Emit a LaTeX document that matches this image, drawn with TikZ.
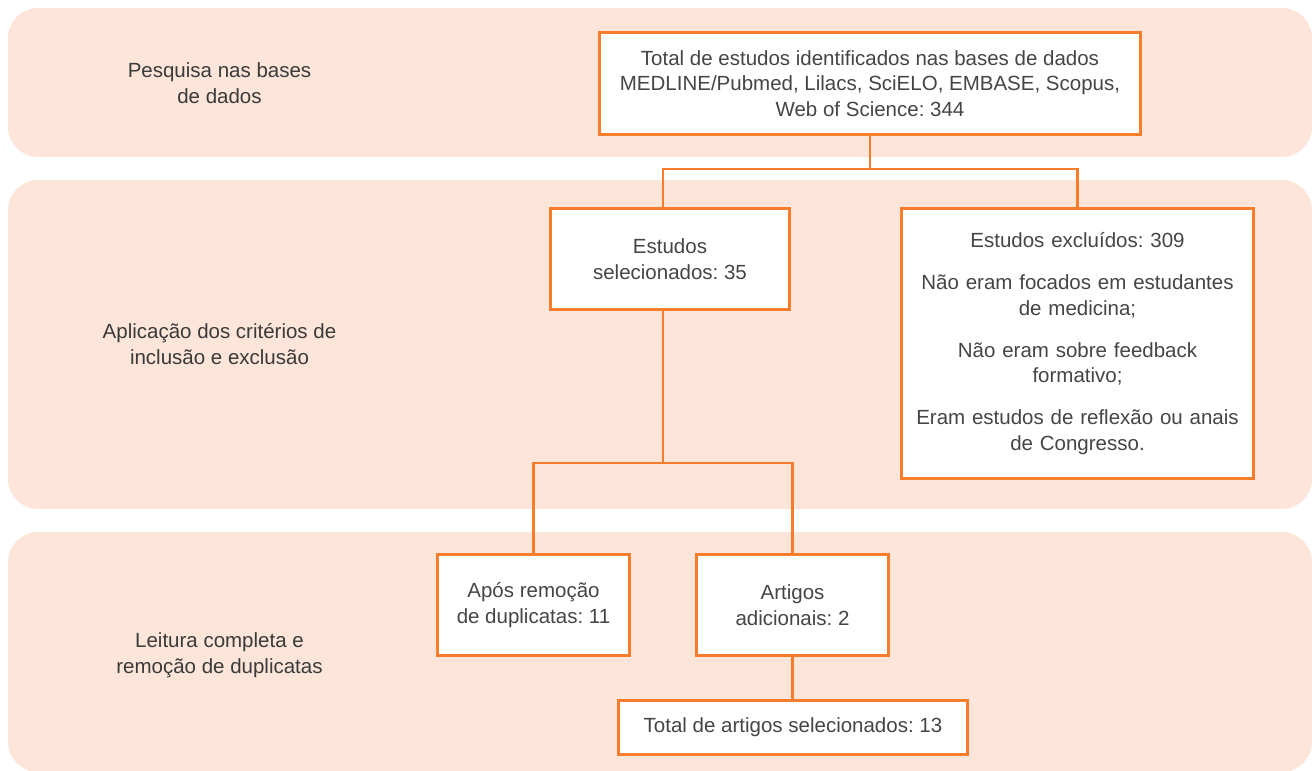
\documentclass[tikz,border=0pt]{standalone}
\usepackage{fontspec}
\setmainfont{Liberation Sans}
\frenchspacing

\definecolor{laranja}{HTML}{F57D2B}
\definecolor{pessego}{HTML}{FDE6D9}
\definecolor{texto}{HTML}{3A3A3A}
\definecolor{textocaixa}{HTML}{454545}

\tikzset{
	faixa/.style={fill=pessego, rounded corners=30pt},
	caixa/.style={draw=laranja, line width=2.7pt, fill=white, align=center,
		text=textocaixa, inner sep=0pt, font=\fontsize{20.5}{25.5}\selectfont},
	etapa/.style={align=center, text=texto, font=\fontsize{20.5}{25.5}\selectfont},
	ligacao/.style={draw=laranja, line width=2.7pt, line cap=rect}
}

\begin{document}
\begin{tikzpicture}[x=1pt, y=-1pt]
	
	\useasboundingbox (0,0) rectangle (1312,771);
	
	% Faixas
	\path[faixa] (8,8) rectangle (1312,157);
	\path[faixa] (8,180) rectangle (1312,509);
	\path[faixa] (8,532) rectangle (1312,772);
	
	% Etapas
	\node[etapa] (pesq) at (219.5,83) {Pesquisa nas bases\\de dados};
	\node[etapa] (aplic) at (219.5,344) {Aplicação dos critérios de\\inclusão e exclusão};
	\node[etapa] (leit) at (219.5,655) {Leitura completa e\\remoção de duplicatas};
	
	% Caixas
	\node[caixa, minimum width=541, minimum height=102] (total) at (870,83.5)
		{Total de estudos identificados nas bases de dados\\MEDLINE/Pubmed, Lilacs, SciELO, EMBASE, Scopus,\\Web of Science: 344};
	\node[caixa, minimum width=239, minimum height=101] (sel) at (670,259)
		{Estudos\\selecionados: 35};
	\node[caixa, minimum width=352, minimum height=270, text width=345] (excl) at (1077.5,343.5)
		{Estudos excluídos: 309\\[16.5pt]
		 Não eram focados em estudantes\\de medicina;\\[16.5pt]
		 Não eram sobre feedback\\formativo;\\[16.5pt]
		 Eram estudos de reflexão ou anais\\de Congresso.};
	\node[caixa, minimum width=192, minimum height=101] (apos) at (533.5,605)
		{Após remoção\\de duplicatas: 11};
	\node[caixa, minimum width=192, minimum height=101] (art) at (792.5,605)
		{Artigos\\adicionais: 2};
	\node[caixa, minimum width=349, minimum height=54] (final) at (793,727.5)
		{Total de artigos selecionados: 13};
	
	% Ligacoes
	\draw[ligacao] (total.south) -- ++(0,33) coordinate (j1);
	\draw[ligacao] ([xshift=-7pt]sel.north) |- (j1) -| (excl.north);
	\draw[ligacao] ([xshift=-7pt]sel.south) -- ++(0,152) coordinate (j2);
	\draw[ligacao] (apos.north) |- (j2) -| (art.north);
	\draw[ligacao] (art.south) -- (art.south |- final.north);
	
\end{tikzpicture}
\end{document}
